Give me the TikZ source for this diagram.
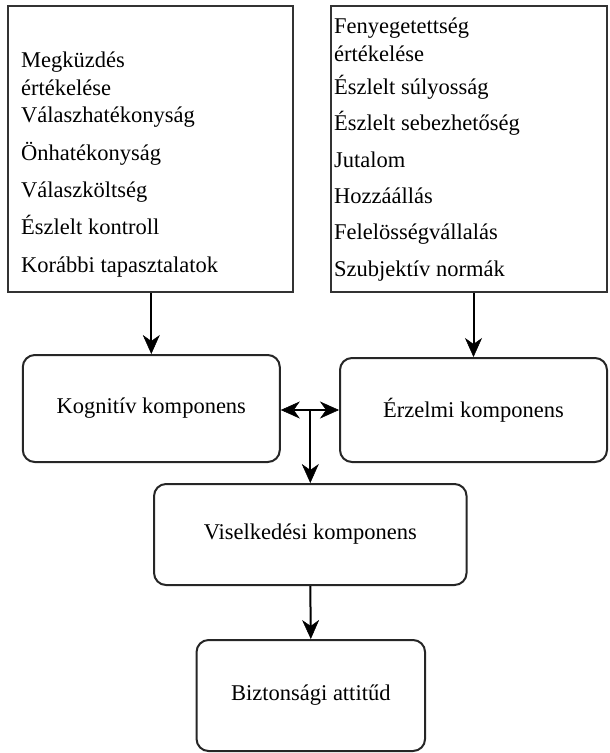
\documentclass[tikz,border=0pt]{standalone}
\usepackage{fontspec}
\setmainfont{Liberation Serif}
\usetikzlibrary{arrows.meta}
\begin{document}
\begin{tikzpicture}[x=1pt,y=-1pt,
  sqbox/.style={draw=black!80,line width=2pt,inner sep=0pt},
  rbox/.style={draw=black!85,line width=2pt,rounded corners=12pt,inner sep=0pt,
    font=\fontsize{22.5}{26}\selectfont},
  item/.style={anchor=base west,inner sep=0pt,font=\fontsize{22.5}{26}\selectfont},
  arr/.style={line width=2pt,-{Stealth[length=19pt,width=17pt,inset=6pt,fill=black,line width=0.5pt]}},
  arrb/.style={line width=2pt,{Stealth[length=19pt,width=17pt,inset=6pt,fill=black,line width=0.5pt]}-{Stealth[length=19pt,width=17pt,inset=6pt,fill=black,line width=0.5pt]}}
]
\useasboundingbox (0,0) rectangle (610,753);
% top boxes
\node[sqbox,minimum width=285pt,minimum height=286pt] (topL) at (150.5,149) {};
\node[sqbox,minimum width=276pt,minimum height=286pt] (topR) at (469,149) {};
% left list
\node[item] (l1) at (21,67) {Megküzdés};
\node[item] (l2) at (21,95) {értékelése};
\node[item] (l3) at (21,122) {Válaszhatékonyság};
\node[item] (l4) at (21,160) {Önhatékonyság};
\node[item] (l5) at (21,197) {Válaszköltség};
\node[item] (l6) at (21,234.5) {Észlelt kontroll};
\node[item] (l7) at (21,272) {Korábbi tapasztalatok};
% right list
\node[item] (r1) at (334,33.5) {Fenyegetettség};
\node[item] (r2) at (334,61.5) {értékelése};
\node[item] (r3) at (334,94) {Észlelt súlyosság};
\node[item] (r4) at (334,130) {Észlelt sebezhetőség};
\node[item] (r5) at (334,167) {Jutalom};
\node[item] (r6) at (334,203) {Hozzáállás};
\node[item] (r7) at (334,239.5) {Felelösségvállalás};
\node[item] (r8) at (334,276) {Szubjektív normák};
% components
\node[rbox,minimum width=257pt,minimum height=107pt] (kog) at (151.3,408.5) {Kognitív komponens};
\node[rbox,minimum width=267pt,minimum height=104pt] (erz) at (473.5,410) {Érzelmi komponens};
\node[rbox,minimum width=312.5pt,minimum height=101pt] (vis) at (310.3,534.5) {Viselkedési komponens};
\node[rbox,minimum width=228.5pt,minimum height=111pt] (biz) at (310.8,695.5) {Biztonsági attitűd};
% connectors
\draw[arr] (topL.south -| kog.north) -- (kog.north);
\draw[arr] (topR.south -| erz.north) -- (erz.north);
\draw[arrb] (kog.east |- erz.west) -- (erz.west);
\coordinate (j) at (vis.north |- erz.west);
\draw[arr] (j) -- (vis.north);
\draw[arr] (vis.south) -- (biz.north);
\end{tikzpicture}
\end{document}
